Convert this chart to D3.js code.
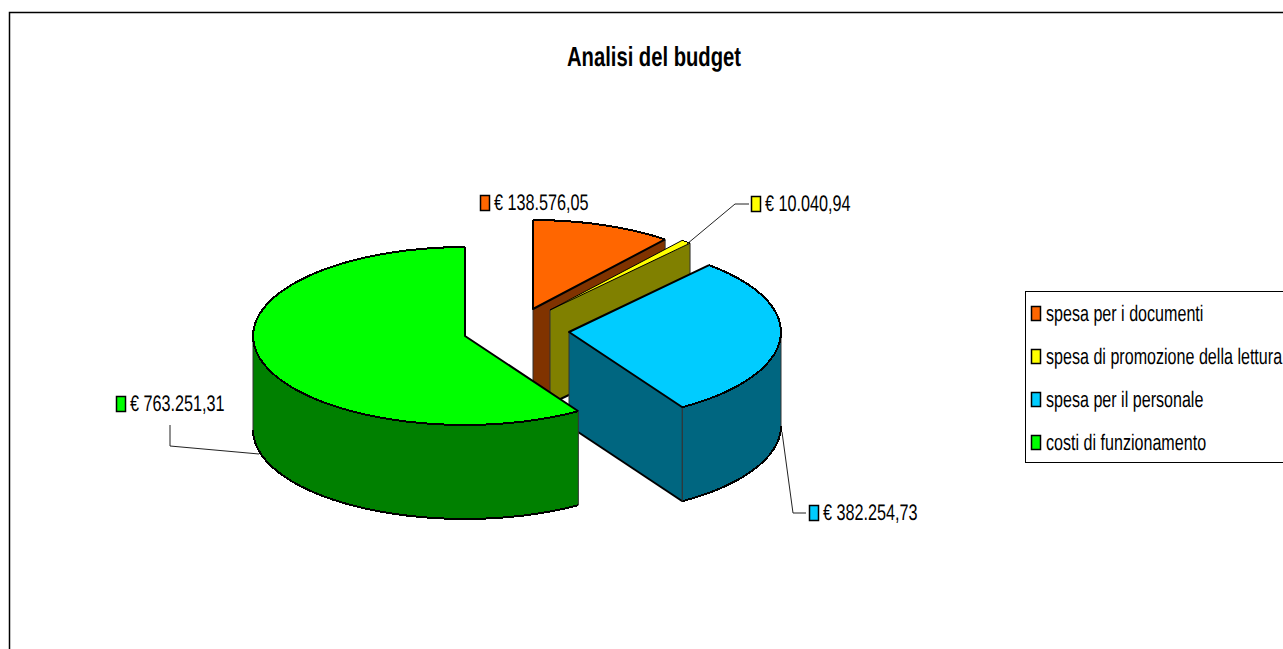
<!DOCTYPE html>
<meta charset='utf-8'>
<title>Analisi del budget</title>
<style>
body {
  margin: 0;
  background-color: #fff;
}

svg {
  display: block;
}

text {
  font-family: "Liberation Sans", Arial, sans-serif;
  fill: #000;
  text-rendering: geometricPrecision;
}
</style>
<svg width="1283" height="649"></svg>
<script src="https://d3js.org/d3.v7.min.js"></script>
<script>

// Chart data
var categories = ["spesa per i documenti", "spesa di promozione della lettura", "spesa per il personale", "costi di funzionamento"];
var values = [138576.05, 10040.94, 382254.73, 763251.31];
var topColors = ["#ff6600", "#ffff00", "#00ccff", "#00ff00"];
var wallColors = ["#803300", "#808000", "#006680", "#008000"];

var svg = d3.select("svg");

// Chart frame runs off the right and bottom of the picture
svg.append("rect")
    .attr("x", 9.5)
    .attr("y", 12.5)
    .attr("width", 1400)
    .attr("height", 800)
    .attr("fill", "#fff")
    .attr("stroke", "#000")
    .attr("stroke-width", 1.5);

svg.append("text")
    .attr("transform", "translate(654,66) scale(0.735,1)")
    .attr("text-anchor", "middle")
    .attr("font-size", 27.5)
    .attr("font-weight", "bold")
    .text("Analisi del budget");

// Italian euro format for the data labels
var euro = d3.formatLocale({
  decimal: ",",
  thousands: ".",
  grouping: [3],
  currency: ["€ ", ""]
}).format("$,.2f");

var pie = d3.pie().sort(null).value(function(d) { return d; });
var slices = pie(values);

// Tilted pie: unit circle to screen offset
var x = d3.scaleLinear().domain([-1, 1]).range([-212, 212]);
var y = d3.scaleLinear().domain([-1, 1]).range([89, -89]);
var depth = 94;

// Where each exploded slice has its apex
var apexes = [[533, 309], [550, 310], [569, 332], [465, 336]];

var line = d3.line();

function rim(a0, a1, apex, dy) {
  var n = Math.max(1, Math.ceil((a1 - a0) / 0.07));
  return d3.range(n + 1).map(function(i) {
    var a = a0 + (a1 - a0) * i / n;
    return [apex[0] + x(Math.sin(a)), apex[1] + y(Math.cos(a)) + dy];
  });
}

var pies = svg.append("g")
    .attr("stroke-linejoin", "round")
    .selectAll("g")
    .data(slices)
  .enter().append("g")
    .each(drawSlice);

function edge(g, pts, color, width, crisp) {
  g.append("path")
      .attr("d", line(pts))
      .attr("fill", "none")
      .attr("stroke", color)
      .attr("stroke-width", width)
      .attr("shape-rendering", crisp ? "crispEdges" : "auto");
}

function drawSlice(d, i) {
  var g = d3.select(this);
  var apex = apexes[i];
  var wall = wallColors[i];
  var left = Math.PI / 2, right = 3 * Math.PI / 2;

  // Cut face under the slice's closing edge
  if (d.endAngle < Math.PI) {
    var end = rim(d.endAngle, d.endAngle, apex, 0)[0];
    g.append("path")
        .attr("d", line([apex, end, [end[0], end[1] + depth], [apex[0], apex[1] + depth]]) + "Z")
        .attr("fill", wall);
    edge(g, [[apex[0], apex[1] + depth], [end[0], end[1] + depth]], "#000", 2);
    edge(g, [apex, [apex[0], apex[1] + depth]], "#333", 1);
    edge(g, [end, [end[0], end[1] + depth]], "#333", 1);
  }

  // Outer wall, only the part that faces the viewer
  var a0 = Math.max(d.startAngle, left), a1 = Math.min(d.endAngle, right);
  if (a1 > a0) {
    var upper = rim(a0, a1, apex, 0), lower = rim(a0, a1, apex, depth);
    g.append("path")
        .attr("d", line(upper.concat(lower.slice().reverse())) + "Z")
        .attr("fill", wall);
    edge(g, lower, "#000", 2, true);
    edge(g, [upper[0], lower[0]], "#333", 1);
    edge(g, [upper[upper.length - 1], lower[lower.length - 1]], "#333", 1);
  }

  // Top face, filled first so the rim stays stepped and the cuts stay smooth
  var arcPts = rim(d.startAngle, d.endAngle, apex, 0);
  g.append("path")
      .attr("d", line([apex].concat(arcPts)) + "Z")
      .attr("fill", topColors[i]);
  edge(g, arcPts, "#000", i === 1 ? 1 : 2, true);
  edge(g, [arcPts[arcPts.length - 1], apex, arcPts[0]], "#000", i === 1 ? 1 : 2);
}

// Data labels with swatch and leader line
var labelX = [480, 751, 809, 116];
var labelY = [203, 204, 513, 404];
var leaders = [
  null,
  [[687, 244], [735, 204], [749, 204]],
  [[782, 432], [793, 513], [806, 513]],
  [[170, 425], [170, 446], [259, 454]]
];

var labels = svg.append("g")
    .selectAll("g")
    .data(values)
  .enter().append("g")
    .attr("transform", function(d, i) { return "translate(" + labelX[i] + "," + labelY[i] + ")"; });

labels.append("rect")
    .attr("x", 0.5)
    .attr("y", -7.5)
    .attr("width", 9)
    .attr("height", 15)
    .attr("fill", function(d, i) { return topColors[i]; })
    .attr("stroke", "#000")
    .attr("stroke-width", 1.5);

labels.append("text")
    .attr("transform", "translate(14,7) scale(0.72,1)")
    .attr("font-size", 22.5)
    .text(function(d) { return euro(d); });

svg.append("g")
    .selectAll("path")
    .data(leaders.filter(Boolean))
  .enter().append("path")
    .attr("d", line)
    .attr("fill", "none")
    .attr("stroke", "#222")
    .attr("stroke-width", 1);

// Legend box runs off the right edge like the original
svg.append("rect")
    .attr("x", 1025.5)
    .attr("y", 291.5)
    .attr("width", 400)
    .attr("height", 171)
    .attr("fill", "#fff")
    .attr("stroke", "#000")
    .attr("stroke-width", 1);

var legendY = d3.scalePoint()
    .domain(categories)
    .range([314, 443]);

var legend = svg.append("g")
    .selectAll("g")
    .data(categories)
  .enter().append("g")
    .attr("transform", function(d) { return "translate(1031," + legendY(d) + ")"; });

legend.append("rect")
    .attr("x", 0.5)
    .attr("y", -7.5)
    .attr("width", 9)
    .attr("height", 14)
    .attr("fill", function(d, i) { return topColors[i]; })
    .attr("stroke", "#000")
    .attr("stroke-width", 1.5);

legend.append("text")
    .attr("transform", "translate(15,6.5) scale(0.715,1)")
    .attr("font-size", 22.5)
    .text(function(d) { return d; });

</script>
